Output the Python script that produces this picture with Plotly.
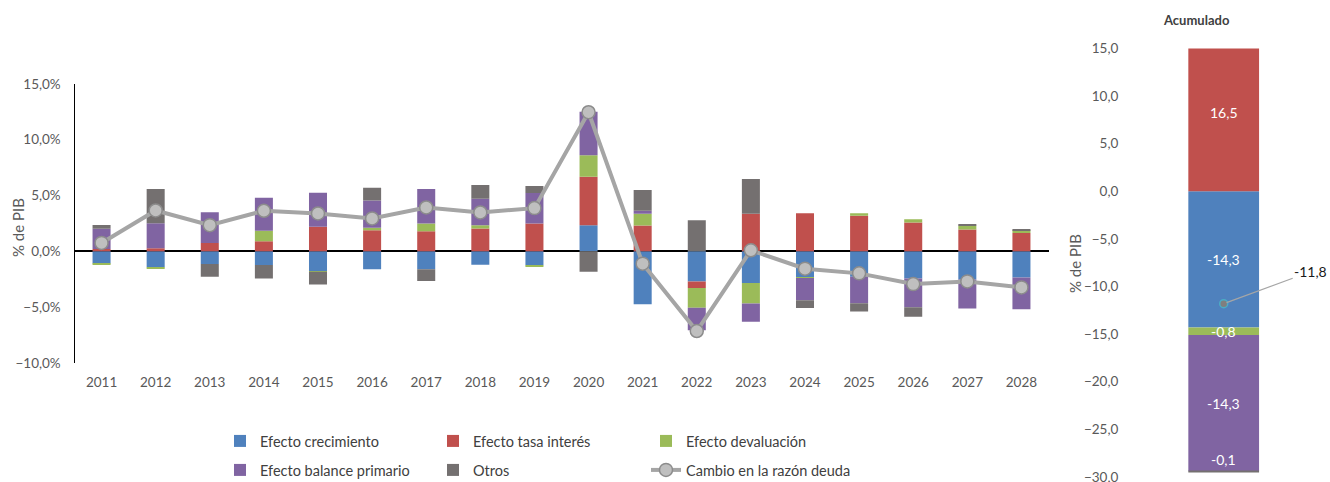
import plotly.graph_objects as go

# ---- data (% of GDP) ----
years = [str(y) for y in range(2011, 2029)]

crecimiento = [-1.10, -1.44, -1.14, -1.23, -1.77, -1.62, -1.62, -1.20, -1.26, 2.34,
               -4.74, -2.70, -2.85, -2.34, -2.28, -2.43, -2.52, -2.34]
tasa_interes = [0.20, 0.27, 0.75, 0.90, 2.19, 1.89, 1.80, 2.04, 2.49, 4.35,
                2.31, -0.60, 3.36, 3.42, 3.18, 2.58, 1.95, 1.65]
devaluacion = [-0.10, -0.10, 0.00, 0.93, -0.06, 0.21, 0.69, 0.30, -0.12, 1.92,
               1.05, -1.77, -1.83, -0.06, 0.24, 0.30, 0.33, 0.24]
balance_primario = [1.83, 2.25, 2.76, 2.97, 3.06, 2.46, 3.09, 2.37, 2.73, 3.90,
                    0.27, -2.01, -1.65, -2.00, -2.37, -2.58, -2.61, -2.85]
otros = [0.33, 3.06, -1.14, -1.20, -1.14, 1.14, -1.05, 1.23, 0.63, -1.83,
         1.86, 2.79, 3.12, -0.69, -0.75, -0.87, 0.15, 0.09]
cambio_deuda = [0.75, 3.66, 2.34, 3.63, 3.39, 2.94, 3.93, 3.48, 3.87, 12.47,
                -1.11, -7.15, 0.09, -1.56, -1.98, -2.94, -2.70, -3.24]

acum_label = ["Acumulado"]
acum_crecimiento = [-14.3]
acum_tasa = [16.5]
acum_devaluacion = [-0.8]
acum_balance = [-14.3]
acum_otros = [-0.1]
acum_cambio = [-11.8]

names = ["Efecto crecimiento", "Efecto tasa interés", "Efecto devaluación",
         "Efecto balance primario", "Otros"]
colors = ["#4F81BD", "#C0504D", "#9BBB59", "#8064A2", "#747070"]
legends = ["legend", "legend", "legend", "legend2", "legend2"]

FONT = "Lato, 'Open Sans', sans-serif"
TICK = "#595959"

W, H = 1330, 482


def px_x(p):
    return p / W


def px_y(p):
    return 1 - p / H


fig = go.Figure()

# ---- yearly decomposition ----
series = [crecimiento, tasa_interes, devaluacion, balance_primario, otros]
for name, vals, col, lg in zip(names, series, colors, legends):
    fig.add_trace(go.Bar(
        x=years, y=vals, name=name, marker=dict(color=col, line=dict(width=0)),
        legend=lg, xaxis="x", yaxis="y"))

fig.add_trace(go.Scatter(
    x=years, y=cambio_deuda, name="Cambio en la razón deuda", mode="lines+markers",
    line=dict(color="#A5A5A5", width=4),
    marker=dict(size=13, color="#BFBFBF", line=dict(color="#8C8C8C", width=1.5)),
    legend="legend2", xaxis="x", yaxis="y"))

# ---- cumulative bar ----
acum_series = [acum_crecimiento, acum_tasa, acum_devaluacion, acum_balance, acum_otros]
for name, vals, col in zip(names, acum_series, colors):
    fig.add_trace(go.Bar(
        x=acum_label, y=vals, name=name, marker=dict(color=col, line=dict(width=0)),
        width=0.362, showlegend=False, xaxis="x2", yaxis="y2"))

fig.add_trace(go.Scatter(
    x=acum_label, y=acum_cambio, mode="markers", showlegend=False,
    marker=dict(size=8, color="#7F7F7F", line=dict(color="#4BACC6", width=1.5)),
    xaxis="x2", yaxis="y2"))

Y2_MIN, Y2_MAX = -30, 15


def fmt(v):
    return f"{v:.1f}".replace(".", ",")


annotations = []
# segment labels placed at the middle of each stacked piece
pos_base, neg_base = 0.0, 0.0
for vals in acum_series:
    v = vals[0]
    if v >= 0:
        mid = pos_base + v / 2
        pos_base += v
    else:
        mid = neg_base + v / 2
        neg_base += v
    mid = max(min(mid, Y2_MAX - 1.8), Y2_MIN + 1.8)
    annotations.append(dict(
        x=acum_label[0], y=mid, xref="x2", yref="y2", text=fmt(v), showarrow=False,
        xanchor="center", yanchor="middle",
        font=dict(family=FONT, size=14, color="white")))

annotations.append(dict(
    x=acum_label[0], y=acum_cambio[0], xref="x2", yref="y2", text=fmt(acum_cambio[0]),
    showarrow=True, arrowhead=0, arrowwidth=1.2, arrowcolor="#A6A6A6",
    ax=87, ay=-32, standoff=3,
    font=dict(family=FONT, size=14, color="#1A1A1A")))

annotations.append(dict(
    x=px_x(1196), y=px_y(20), xref="paper", yref="paper", text="<b>Acumulado</b>",
    xanchor="center", yanchor="middle",
    showarrow=False, font=dict(family=FONT, size=13, color="#404040")))
annotations.append(dict(
    x=px_x(18), y=px_y(228), xref="paper", yref="paper", text="% de PIB",
    xanchor="center", yanchor="middle",
    textangle=-90, showarrow=False, font=dict(family=FONT, size=15, color=TICK)))
annotations.append(dict(
    x=px_x(1075), y=px_y(264), xref="paper", yref="paper", text="% de PIB",
    xanchor="center", yanchor="middle",
    textangle=-90, showarrow=False, font=dict(family=FONT, size=15, color=TICK)))

legend_common = dict(
    orientation="h", entrywidth=168, entrywidthmode="pixels",
    font=dict(family=FONT, size=14.5, color="#404040"),
    bgcolor="rgba(0,0,0,0)", xanchor="left", yanchor="middle",
    traceorder="normal", tracegroupgap=0, itemclick=False)

fig.update_layout(
    width=W, height=H,
    margin=dict(l=0, r=0, t=0, b=0, autoexpand=False),
    paper_bgcolor="white", plot_bgcolor="white",
    barmode="relative", bargap=0.667,
    separators=",.",
    font=dict(family=FONT, size=13.5, color=TICK),
    showlegend=True,
    legend=dict(x=px_x(220), y=px_y(441), **legend_common),
    legend2=dict(x=px_x(220), y=px_y(470), **legend_common),
    xaxis=dict(
        domain=[px_x(74.5), px_x(1048.5)], anchor="y", automargin=False,
        range=[-0.5, len(years) - 0.5], autorange=False,
        showline=False, showgrid=False, zeroline=False,
        ticks="outside", ticklen=7, tickcolor="rgba(0,0,0,0)",
        tickfont=dict(family=FONT, size=13.5, color=TICK)),
    yaxis=dict(
        domain=[px_y(362.8), px_y(84)], anchor="x", automargin=False,
        range=[-10, 15], dtick=5, tick0=0, tickformat=".1f", ticksuffix="%",
        showline=True, linecolor="black", linewidth=1.2,
        zeroline=True, zerolinecolor="black", zerolinewidth=1.6,
        showgrid=False,
        ticks="outside", ticklen=10, tickcolor="rgba(0,0,0,0)",
        tickfont=dict(family=FONT, size=13.5, color=TICK)),
    xaxis2=dict(
        domain=[px_x(1126), px_x(1321.4)], anchor="y2", automargin=False,
        range=[-0.5, 0.5], autorange=False, showticklabels=False, showline=False,
        showgrid=False, zeroline=False),
    yaxis2=dict(
        domain=[px_y(477), px_y(48.4)], anchor="x2", automargin=False,
        range=[Y2_MIN, Y2_MAX], dtick=5, tick0=0, tickformat=".1f",
        ticklabeloverflow="allow",
        showline=False, showgrid=False, zeroline=False,
        ticks="outside", ticklen=4, tickcolor="rgba(0,0,0,0)",
        tickfont=dict(family=FONT, size=13.5, color=TICK)),
    annotations=annotations,
)

fig.write_html("out.html")
